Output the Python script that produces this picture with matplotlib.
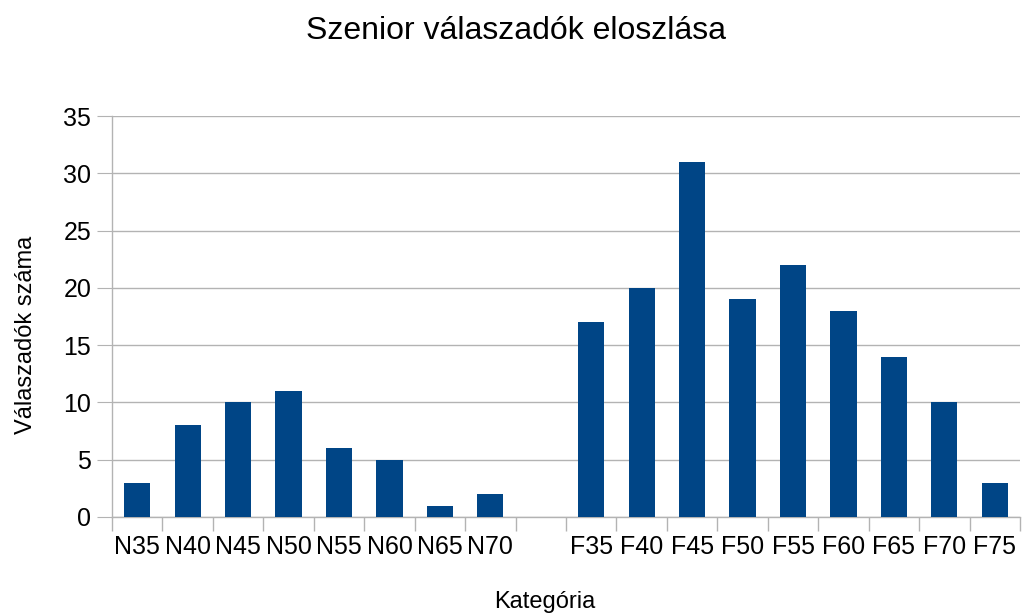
import numpy as np
from matplotlib import pyplot as plt

plt.rcParams["font.family"] = ["Liberation Sans", "DejaVu Sans"]

categories = ["N35", "N40", "N45", "N50", "N55", "N60", "N65", "N70", "",
              "F35", "F40", "F45", "F50", "F55", "F60", "F65", "F70", "F75"]
counts = [3, 8, 10, 11, 6, 5, 1, 2, 0,
          17, 20, 31, 19, 22, 18, 14, 10, 3]
y_ticks = [0, 5, 10, 15, 20, 25, 30, 35]

fig = plt.figure(figsize=(10.22, 6.15), dpi=100)
ax = fig.add_axes([112 / 1022, 1 - 517 / 615, 908 / 1022, 401 / 615])

x = np.arange(len(categories))
ax.bar(x, counts, width=0.52, color="#004586", zorder=3)

ax.set_xlim(-0.5, len(categories) - 0.5)
ax.set_ylim(0, 35)
ax.set_yticks(y_ticks)
ax.yaxis.grid(True, color="#b3b3b3", linewidth=1.0, zorder=0)
ax.tick_params(axis="y", length=11, color="#b3b3b3", labelsize=18, pad=4)

ax.set_xticks(x)
ax.set_xticklabels(categories)
ax.tick_params(axis="x", which="major", length=0, labelsize=18, pad=13)
ax.set_xticks(np.arange(len(categories) + 1) - 0.5, minor=True)
ax.tick_params(axis="x", which="minor", length=10, color="#b3b3b3", width=1.0)

for side in ["top", "right"]:
    ax.spines[side].set_visible(False)
for side in ["left", "bottom"]:
    ax.spines[side].set_color("#b3b3b3")
    ax.spines[side].set_linewidth(1.0)

fig.text(516 / 1022, 1 - 31 / 615, "Szenior válaszadók eloszlása",
         ha="center", va="center", fontsize=23)
fig.text(545 / 1022, 1 - 602 / 615, "Kategória",
         ha="center", va="center", fontsize=17)
fig.text(26 / 1022, 1 - 335 / 615, "Válaszadók száma",
         ha="center", va="center", rotation=90, fontsize=17)

fig.savefig("out.png", dpi=100)
